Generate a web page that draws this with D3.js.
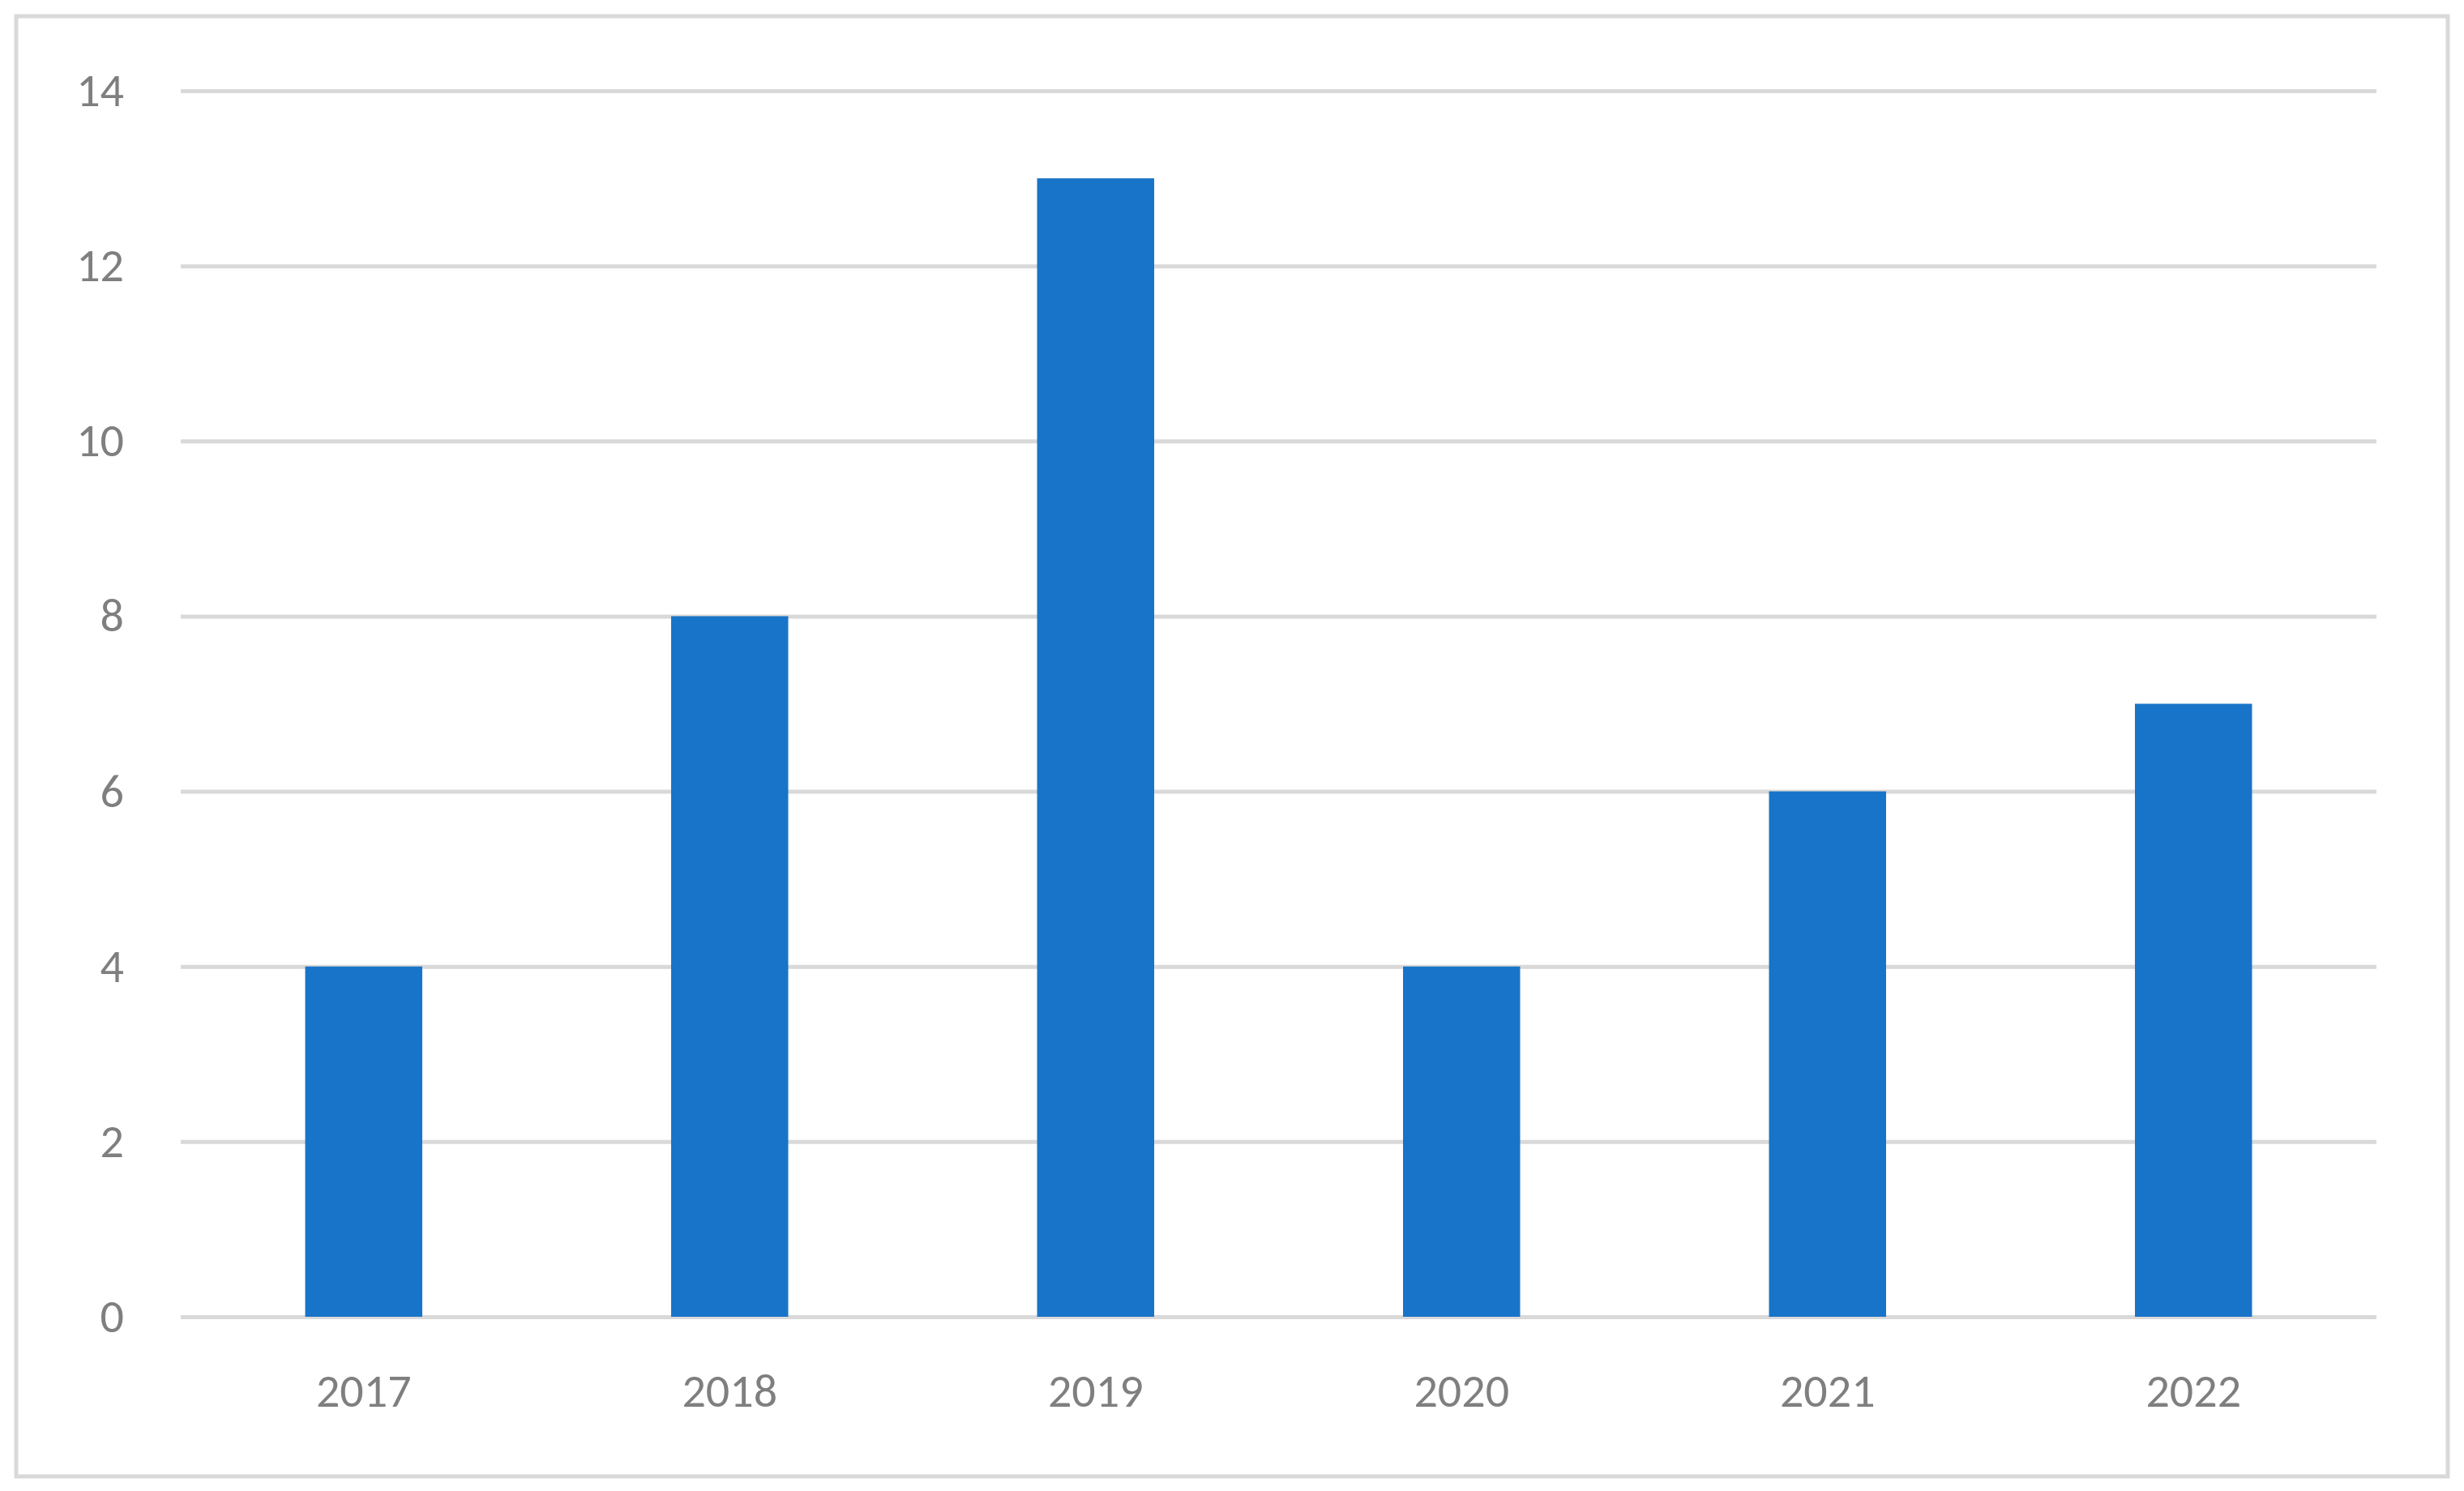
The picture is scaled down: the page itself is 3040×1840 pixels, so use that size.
<!DOCTYPE html>
<html>
<head>
<meta charset="utf-8">
<script src="https://cdn.jsdelivr.net/npm/d3@7"></script>
<style>
  html, body { margin: 0; padding: 0; background: #fff; }
  svg { display: block; }
</style>
</head>
<body>
<svg id="chart" width="3040" height="1840"></svg>
<script>
const years = ['2017', '2018', '2019', '2020', '2021', '2022']
const counts = [4, 8, 13, 4, 6, 7]
const yTicks = [0, 2, 4, 6, 8, 10, 12, 14]

const svg = d3.select('#chart')
const plotLeft = 223, plotRight = 2932, plotTop = 112, plotBottom = 1625

svg.append('rect')
  .attr('x', 20).attr('y', 20).attr('width', 3000).attr('height', 1802)
  .attr('fill', '#fff').attr('stroke', '#d9d9d9').attr('stroke-width', 5)

const x = d3.scaleBand().domain(years).range([plotLeft, plotRight]).paddingInner(0.68).paddingOuter(0.34)
const y = d3.scaleLinear().domain([0, 14]).range([plotBottom, plotTop])

const yAxis = svg.append('g')
  .attr('transform', `translate(${plotLeft},0)`)
  .call(d3.axisLeft(y).tickValues(yTicks).tickSize(-(plotRight - plotLeft)).tickPadding(70))
yAxis.select('.domain').remove()
yAxis.selectAll('line').attr('stroke', '#d9d9d9').attr('stroke-width', 5)
yAxis.selectAll('text').attr('fill', '#7f7f7f').style('font-size', '58px')
  .style('font-family', 'Carlito, "Liberation Sans", sans-serif')

svg.append('g').selectAll('rect').data(counts).join('rect')
  .attr('x', (d, i) => x(years[i]))
  .attr('y', d => y(d))
  .attr('width', x.bandwidth())
  .attr('height', d => y(0) - y(d))
  .attr('fill', '#1874c8')

const xAxis = svg.append('g')
  .attr('transform', `translate(0,${plotBottom})`)
  .call(d3.axisBottom(x).tickSize(0).tickPadding(70))
xAxis.select('.domain').remove()
xAxis.selectAll('text').attr('fill', '#7f7f7f').style('font-size', '58px')
  .style('font-family', 'Carlito, "Liberation Sans", sans-serif')
</script>
</body>
</html>
